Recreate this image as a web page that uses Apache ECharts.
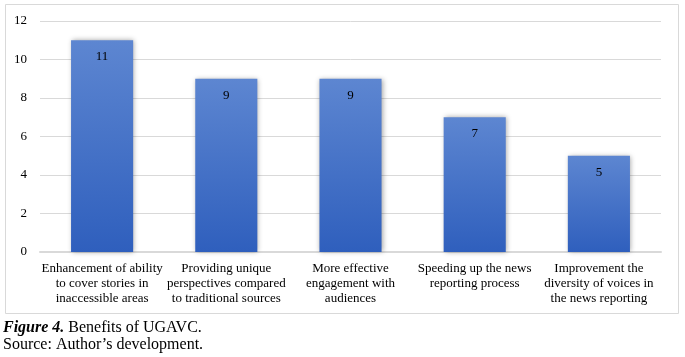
<!DOCTYPE html>
<html>
<head>
<meta charset="utf-8">
<script src="https://cdn.jsdelivr.net/npm/echarts@6/dist/echarts.min.js"></script>
<style>
html,body{margin:0;padding:0;background:#fff;}
#c{width:685px;height:357px;}
</style>
</head>
<body>
<div id="c"></div>
<script>
const categories = [
  "Enhancement of ability\nto cover stories in\ninaccessible areas",
  "Providing unique\nperspectives compared\nto traditional sources",
  "More effective\nengagement with\naudiences",
  "Speeding up the news\nreporting process",
  "Improvement the\ndiversity of voices in\nthe news reporting"
];
const values = [11, 9, 9, 7, 5];
const yTicks = { min: 0, max: 12, interval: 2 };

const chart = echarts.init(document.getElementById('c'), null, {renderer: 'canvas'});
const serif = '"Liberation Serif", "Times New Roman", serif';
chart.setOption({
  animation: false,
  backgroundColor: '#fff',
  graphic: [
    { type: 'rect', shape: { x: 5.5, y: 4.5, width: 673, height: 309 },
      style: { fill: 'none', stroke: '#d9d9d9', lineWidth: 1 }, z: -1 },
    { type: 'text', left: 3, top: 320,
      style: { text: '{b|Figure 4.} Benefits of UGAVC.', fontFamily: serif, fontSize: 16, fill: '#000',
        rich: { b: { fontWeight: 'bold', fontStyle: 'italic', fontFamily: serif, fontSize: 16 } } } },
    { type: 'text', left: 3, top: 337,
      style: { text: 'Source: Author\u2019s development.', fontFamily: serif, fontSize: 16, fill: '#000' } }
  ],
  grid: { left: 40, right: 24, top: 21, bottom: 105, containLabel: false },
  xAxis: {
    type: 'category',
    data: categories,
    axisTick: { show: false },
    axisLine: { lineStyle: { color: '#d9d9d9', width: 2 } },
    axisLabel: { color: '#000', fontFamily: serif, fontSize: 13, lineHeight: 15, margin: 9, interval: 0 }
  },
  yAxis: {
    type: 'value',
    min: yTicks.min, max: yTicks.max, interval: yTicks.interval,
    axisLine: { show: false },
    axisTick: { show: false },
    splitLine: { lineStyle: { color: '#d9d9d9', width: 1 } },
    axisLabel: { color: '#000', fontFamily: serif, fontSize: 13, margin: 13 }
  },
  series: [{
    type: 'bar',
    data: values,
    barWidth: '50%',
    itemStyle: {
      color: new echarts.graphic.LinearGradient(0, 0, 0, 1, [
        { offset: 0, color: '#5d86d1' },
        { offset: 1, color: '#2f5fbd' }
      ]),
      shadowColor: 'rgba(0,0,0,0.35)',
      shadowBlur: 5,
      shadowOffsetX: 1,
      shadowOffsetY: 0
    },
    label: {
      show: true, position: 'insideTop', distance: 10,
      color: '#000', fontFamily: serif, fontSize: 13
    }
  }]
});
</script>
</body>
</html>
